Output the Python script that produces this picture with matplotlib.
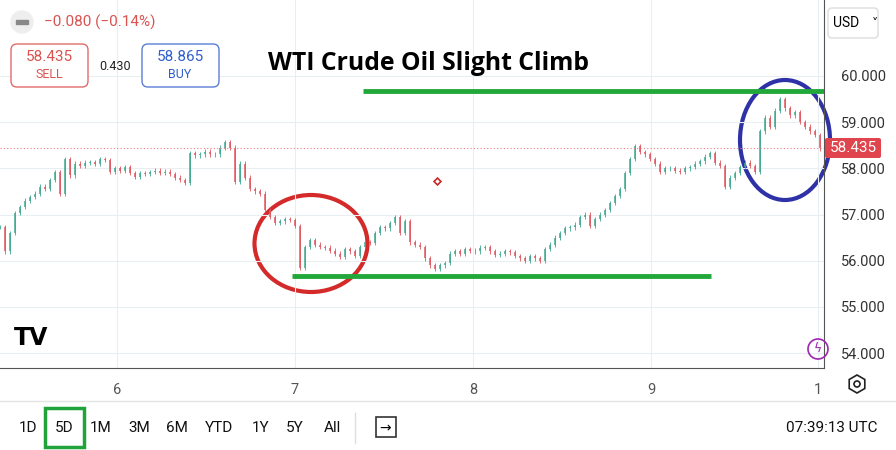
import numpy as np
import matplotlib
matplotlib.use("Agg")
import matplotlib.pyplot as plt
from matplotlib.patches import Ellipse, FancyBboxPatch, Circle, Rectangle, RegularPolygon

plt.rcParams['font.family'] = ['Roboto', 'DejaVu Sans']

# ── Data ─────────────────────────────────────────────────────────────────────
closes = [
    56.73, 56.20, 56.60, 57.03, 57.16, 57.30, 57.38, 57.45, 57.60, 57.55,
    57.75, 57.92, 57.45, 58.20, 57.85, 58.10, 58.05, 58.12, 58.14, 58.10,
    58.20, 58.18, 57.92, 58.00, 57.95, 58.03, 57.90, 57.82, 57.90, 57.88,
    57.92, 57.95, 57.90, 57.93, 57.88, 57.80, 57.75, 57.68, 58.33, 58.28,
    58.30, 58.36, 58.30, 58.30, 58.45, 58.57, 58.45, 57.70, 58.10, 57.80,
    57.55, 57.50, 57.45, 57.10, 56.95, 56.82, 56.85, 56.90, 56.88, 56.75,
    55.85, 56.30, 56.45, 56.35, 56.30, 56.28, 56.22, 56.15, 56.08, 56.25,
    56.20, 56.10, 56.30, 56.40, 56.38, 56.60, 56.72, 56.70, 56.82, 56.95,
    56.60, 56.85, 56.40, 56.35, 56.30, 56.05, 55.90, 55.82, 55.90, 55.95,
    56.15, 56.20, 56.15, 56.25, 56.22, 56.20, 56.28, 56.30, 56.20, 56.12,
    56.15, 56.20, 56.18, 56.10, 56.05, 56.00, 56.10, 56.05, 56.00, 56.25,
    56.35, 56.50, 56.60, 56.70, 56.72, 56.78, 56.95, 57.00, 56.75, 56.90,
    57.00, 57.10, 57.25, 57.40, 57.55, 57.90, 58.20, 58.48, 58.35, 58.30,
    58.20, 58.10, 57.92, 58.00, 58.00, 57.95, 57.93, 58.00, 58.03, 58.10,
    58.15, 58.25, 58.33, 58.12, 58.05, 57.60, 57.80, 57.90, 58.03, 58.12,
    58.05, 57.92, 58.80, 59.10, 58.90, 59.25, 59.50, 59.30, 59.15, 59.22,
    59.00, 58.90, 58.80, 58.72, 58.435,
]
start_day = 5.343
candle_step = 5 / 178          # one candle every ~5 px, 178 px per day
last_price = 58.435
resistance = 59.68
support = 55.67
price_ticks = [54, 55, 56, 57, 58, 59, 60]
day_ticks = [6, 7, 8, 9, 9.94]
day_labels = ["6", "7", "8", "9", "1"]
ranges = ["1D", "5D", "1M", "3M", "6M", "YTD", "1Y", "5Y", "All"]
range_x = [28, 64, 101, 139, 177, 219, 261, 295, 332]

UP, DOWN = "#3fa88f", "#e0565e"
W, H = 896, 450

fig = plt.figure(figsize=(8.96, 4.5), dpi=100)
ax = fig.add_axes([0, (H - 368) / H, 824 / W, 368 / H])

# candles
t = start_day + np.arange(len(closes)) * candle_step
opens = [closes[0]] + closes[:-1]
for ti, o, c in zip(t, opens, closes):
    col = UP if c >= o else DOWN
    ax.vlines(ti, min(o, c) - 0.05, max(o, c) + 0.05, color=col, lw=0.6)
    ax.vlines(ti, min(o, c), max(o, c), color=col, lw=1.1)

ax.set_xlim(start_day, start_day + 824 / 178)
ax.set_ylim(60 - 292 / 46.17, 60 + 76 / 46.17)

ax.set_yticks(price_ticks)
ax.set_yticklabels([f"{p:.3f}" for p in price_ticks])
ax.yaxis.tick_right()
ax.tick_params(axis='y', length=0, pad=12, labelsize=10.5, labelcolor="#333333")
ax.set_xticks(day_ticks)
ax.set_xticklabels(day_labels)
ax.tick_params(axis='x', length=0, pad=11, labelsize=10.5, labelcolor="#555555")
ax.grid(color="#e9eef3", lw=0.8)
for s in ("top", "left"):
    ax.spines[s].set_visible(False)
ax.spines["right"].set_color("#555555")
ax.spines["bottom"].set_color("#555555")

# last price line
ax.axhline(last_price, color="#f08080", lw=0.8, ls=(0, (1, 2)))

# support / resistance
ax.hlines(resistance, start_day + 363 / 178, start_day + 824 / 178, color="#22a83a", lw=3.5)
ax.hlines(support, start_day + 292 / 178, start_day + 711 / 178, color="#22a83a", lw=3.5)

# circles
ax.add_patch(Ellipse((start_day + 311 / 178, 60 - 167.5 / 46.17), 113 / 178, 97 / 46.17,
                     fill=False, ec="#d42a2a", lw=3))
ax.add_patch(Ellipse((start_day + 785 / 178, 60 - 64 / 46.17), 90 / 178, 120 / 46.17,
                     fill=False, ec="#2e32a6", lw=3, clip_on=False))
ax.plot(start_day + 437 / 178, 60 - 105 / 46.17, marker="D", ms=3.5, mfc="white",
        mec="#c62828", mew=1.2)

# overlay in pixel coordinates
ov = fig.add_axes([0, 0, 1, 1], facecolor="none")
ov.set_xlim(0, W)
ov.set_ylim(H, 0)
ov.axis("off")

ov.text(268, 64, "WTI Crude Oil Slight Climb", fontsize=17.8, fontweight="bold",
        family="Open Sans", va="center", ha="left")

# header
ov.add_patch(Circle((22, 22), 11, color="#eeeeee"))
ov.add_patch(Rectangle((16, 20), 12, 4, color="#888888"))
ov.text(44, 22, "\u22120.080 (\u22120.14%)", color="#d9534f", fontsize=11, va="center")
ov.add_patch(FancyBboxPatch((11, 44), 77, 43, boxstyle="round,pad=0,rounding_size=6",
                            fc="white", ec="#e06b6b", lw=1))
ov.text(49, 57, "58.435", color="#d9534f", fontsize=11, ha="center", va="center")
ov.text(49, 74, "SELL", color="#d9534f", fontsize=9, ha="center", va="center")
ov.text(115, 66, "0.430", fontsize=9, ha="center", va="center", color="#222222")
ov.add_patch(FancyBboxPatch((142, 44), 77, 43, boxstyle="round,pad=0,rounding_size=6",
                            fc="white", ec="#5b7fd6", lw=1))
ov.text(180, 57, "58.865", color="#2f5fcc", fontsize=11, ha="center", va="center")
ov.text(180, 74, "BUY", color="#2f5fcc", fontsize=9, ha="center", va="center")

# USD box
ov.add_patch(FancyBboxPatch((828, 8), 50, 30, boxstyle="round,pad=0,rounding_size=4",
                            fc="white", ec="#dddddd", lw=1))
ov.text(846, 23, "USD", fontsize=10, ha="center", va="center")
ov.text(875, 23, "\u02c5", fontsize=9, ha="center", va="center")

# price label
ov.add_patch(FancyBboxPatch((825, 138), 56, 20, boxstyle="round,pad=0,rounding_size=2",
                            fc="#e0444c", ec="none"))
ov.text(853, 148, f"{last_price:.3f}", color="white", fontsize=11, ha="center", va="center")

# logo, lightning, settings
ov.text(14, 338, "TV", fontsize=17, fontweight="heavy", va="center", family="DejaVu Sans")
ov.add_patch(Circle((818, 349), 10, fill=False, ec="#9c27b0", lw=1.2))
ov.text(818, 349, "\u03df", color="#9c27b0", fontsize=9, ha="center", va="center",
        family="DejaVu Sans")
ov.add_patch(RegularPolygon((857, 384), 6, radius=9, fill=False, ec="#222222", lw=1.2))
ov.add_patch(Circle((857, 384), 3, fill=False, ec="#222222", lw=1.2))

# bottom bar
ov.plot([0, W], [401, 401], color="#e4e4e4", lw=1)
for lab, x in zip(ranges, range_x):
    ov.text(x, 428, lab, fontsize=11, ha="center", va="center", color="#111111")
ov.add_patch(Rectangle((45, 408), 39, 39, fill=False, ec="#1fa33a", lw=2.5))
ov.plot([355, 355], [413, 443], color="#dddddd", lw=1)
ov.add_patch(Rectangle((376, 417), 20, 20, fill=False, ec="#333333", lw=1.2))
ov.text(385, 428, "\u2192", fontsize=10, ha="center", va="center")
ov.text(878, 428, "07:39:13 UTC", fontsize=11, ha="right", va="center", color="#111111")

fig.savefig("out.png", dpi=100)
